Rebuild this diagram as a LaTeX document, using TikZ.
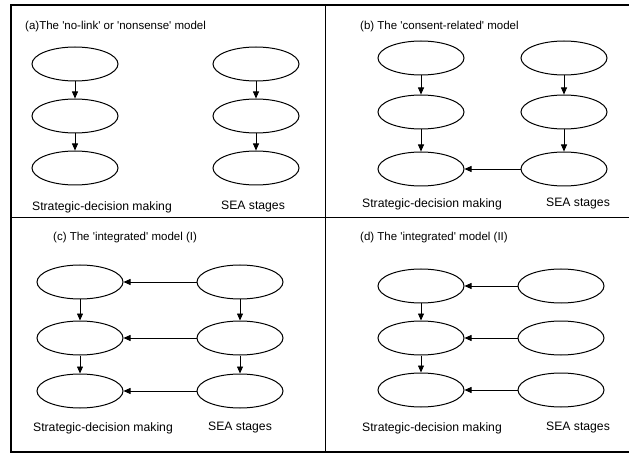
\documentclass[tikz,border=0pt]{standalone}
\usepackage{fontspec}
\setmainfont{Liberation Sans}
\usetikzlibrary{positioning}
\usetikzlibrary{shapes.geometric}
\usetikzlibrary{arrows.meta}

\newcommand{\q}{\textquotesingle}

\begin{document}
\begin{tikzpicture}[x=1pt, y=-1pt, >={Triangle[length=7pt, width=6pt]},
	ov/.style={draw, ellipse, line width=1pt, minimum width=86pt, minimum height=34pt, inner sep=0pt},
	lab/.style={font=\fontsize{12.2}{14}\selectfont, inner sep=0pt},
	ttl/.style={font=\fontsize{11.5}{13}\selectfont, inner sep=0pt, anchor = west},
	link/.style={->, line width=0.8pt}]
					\useasboundingbox (0, 0) rectangle (629, 454);
					\draw[black, line width=2.5pt] (11, 5) rectangle (640, 452);
					\draw[black, line width=1pt] (325, 5)--(325, 452);
					\draw[black, line width=1pt] (11, 218)--(629, 218);

					\node[ttl] (ta) at (25, 27) {(a)The \q no-link\q{} or \q nonsense\q{} model};
					\node[ov] (aD1) at (75, 64) {};
					\node[ov] (aD2) at (75, 116) {};
					\node[ov] (aD3) at (75, 168) {};
					\node[ov] (aS1) at (256, 64) {};
					\node[ov] (aS2) at (256, 116) {};
					\node[ov] (aS3) at (256, 168) {};
					\node[lab] (aDl) at (102, 207) {Strategic-decision making};
					\node[lab] (aSl) at (253, 207) {SEA stages};
					\draw[link] (aD1)--(aD2);
					\draw[link] (aD2)--(aD3);
					\draw[link] (aS1)--(aS2);
					\draw[link] (aS2)--(aS3);

					\node[ttl] (tb) at (360, 27) {(b) The \q consent-related\q{} model};
					\node[ov] (bD1) at (421, 58) {};
					\node[ov] (bD2) at (421, 112) {};
					\node[ov] (bD3) at (421, 169) {};
					\node[ov] (bS1) at (564, 58) {};
					\node[ov] (bS2) at (564, 112) {};
					\node[ov] (bS3) at (564, 169) {};
					\node[lab] (bDl) at (432, 204) {Strategic-decision making};
					\node[lab] (bSl) at (578, 204) {SEA stages};
					\draw[link] (bD1)--(bD2);
					\draw[link] (bD2)--(bD3);
					\draw[link] (bS1)--(bS2);
					\draw[link] (bS2)--(bS3);
					\draw[link] (bS3)--(bD3);

					\node[ttl] (tc) at (53, 238) {(c) The \q integrated\q{} model (I)};
					\node[ov] (cD1) at (80, 282) {};
					\node[ov] (cD2) at (80, 338) {};
					\node[ov] (cD3) at (80, 391) {};
					\node[ov] (cS1) at (240, 282) {};
					\node[ov] (cS2) at (240, 338) {};
					\node[ov] (cS3) at (240, 391) {};
					\node[lab] (cDl) at (103, 428) {Strategic-decision making};
					\node[lab] (cSl) at (240, 428) {SEA stages};
					\draw[link] (cD1)--(cD2);
					\draw[link] (cD2)--(cD3);
					\draw[link] (cS1)--(cS2);
					\draw[link] (cS2)--(cS3);
					\draw[link] (cS1)--(cD1);
					\draw[link] (cS2)--(cD2);
					\draw[link] (cS3)--(cD3);

					\node[ttl] (td) at (360, 238) {(d) The \q integrated\q{} model (II)};
					\node[ov] (dD1) at (421, 286) {};
					\node[ov] (dD2) at (421, 338) {};
					\node[ov] (dD3) at (421, 390) {};
					\node[ov] (dS1) at (561, 286) {};
					\node[ov] (dS2) at (561, 338) {};
					\node[ov] (dS3) at (561, 390) {};
					\node[lab] (dDl) at (432, 428) {Strategic-decision making};
					\node[lab] (dSl) at (578, 428) {SEA stages};
					\draw[link] (dD1)--(dD2);
					\draw[link] (dD2)--(dD3);
					\draw[link] (dS1)--(dD1);
					\draw[link] (dS2)--(dD2);
					\draw[link] (dS3)--(dD3);
				\end{tikzpicture}
\end{document}
